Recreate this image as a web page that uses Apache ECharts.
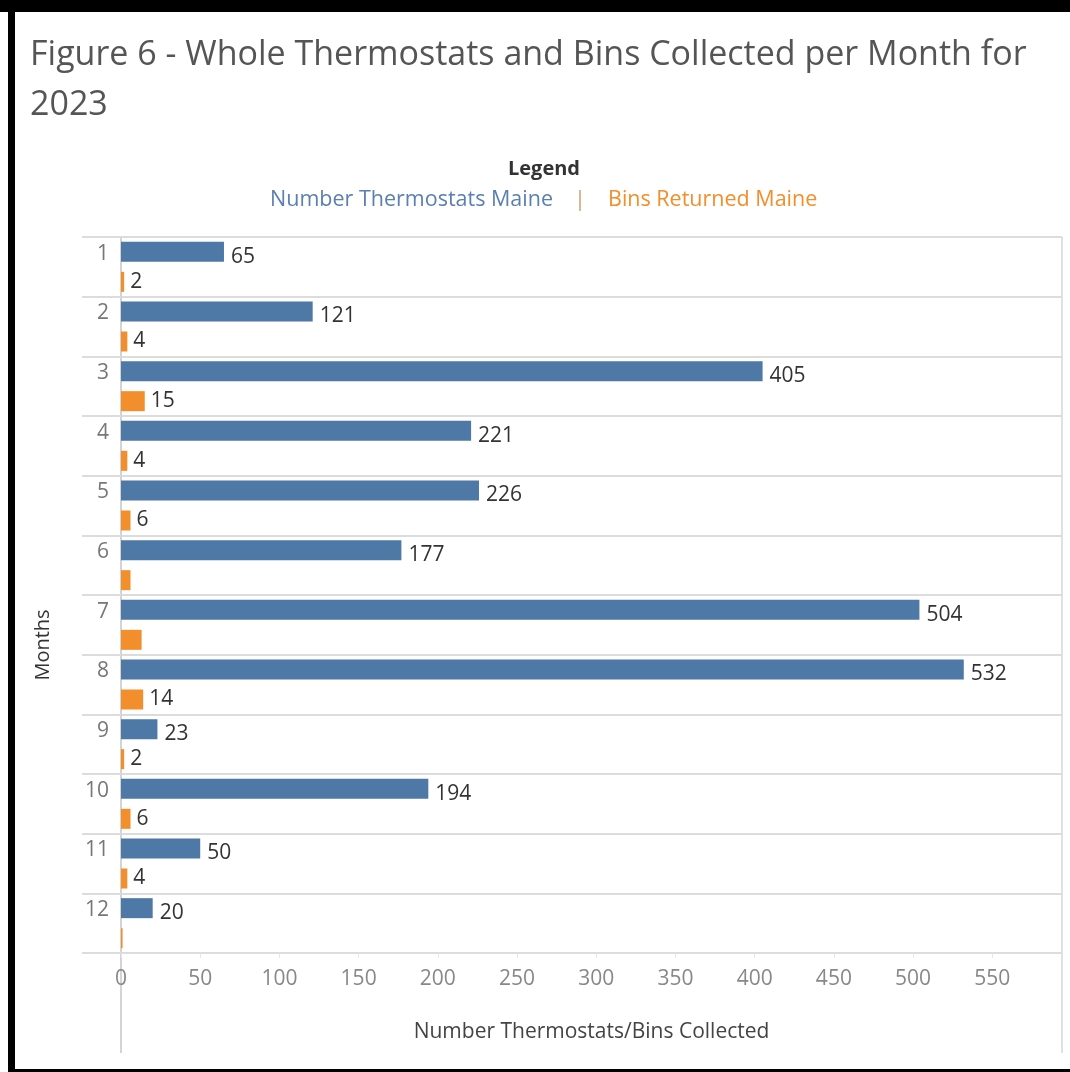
<!DOCTYPE html>
<html>
<head>
<meta charset="utf-8">
<script src="https://cdn.jsdelivr.net/npm/echarts@6/dist/echarts.min.js"></script>
<style>
html,body{margin:0;padding:0;background:#fff;}
#chart{width:1070px;height:1072px;}
</style>
</head>
<body>
<div id="chart"></div>
<script>
// ---- data ----
const months = ['1','2','3','4','5','6','7','8','9','10','11','12'];
const thermostats = [65, 121, 405, 221, 226, 177, 504, 532, 23, 194, 50, 20];
const bins = [2, 4, 15, 4, 6, 6, 13, 14, 2, 6, 4, 1];
const binsUnlabeled = ['6', '7', '12'];
const xTicks = [0, 50, 100, 150, 200, 250, 300, 350, 400, 450, 500, 550];

const FONT = '"Open Sans", "Noto Sans", sans-serif';
const BLUE = '#4e79a7';
const ORANGE = '#f28e2b';

const G = {left: 121, top: 237, right: 8, bottom: 119};
const W = 1070, H = 1072;

const binsData = bins.map((v, i) => binsUnlabeled.includes(months[i])
  ? {value: v, label: {show: false}} : v);

const chart = echarts.init(document.getElementById('chart'), null, {renderer: 'canvas'});
chart.setOption({
  animation: false,
  backgroundColor: '#fff',
  title: {
    text: 'Figure 6 - Whole Thermostats and Bins Collected per Month for\n2023',
    left: 25, top: 25,
    textStyle: {fontFamily: FONT, fontSize: 34, fontWeight: 'normal', color: '#555', lineHeight: 50}
  },
  grid: {left: G.left, top: G.top, right: G.right, bottom: G.bottom, containLabel: false, outerBoundsMode: 'none'},
  xAxis: {
    type: 'value', min: 0, max: 594, interval: 50,
    name: 'Number Thermostats/Bins Collected',
    nameLocation: 'middle', nameGap: 69,
    nameTextStyle: {fontFamily: FONT, fontSize: 21, color: '#444'},
    axisLine: {show: false},
    axisTick: {show: true, length: 5, lineStyle: {color: '#e6e6e6', width: 1}},
    splitLine: {show: false},
    axisLabel: {
      showMaxLabel: false, margin: 16,
      fontFamily: FONT, fontSize: 21, color: '#888',
      formatter: v => xTicks.includes(v) ? String(v) : ''
    }
  },
  yAxis: {
    type: 'category', data: months, inverse: true,
    name: 'Months', nameLocation: 'middle', nameGap: 68, nameRotate: 90,
    nameTextStyle: {fontFamily: FONT, fontSize: 20, color: '#333', padding: [0, 100, 0, 0]},
    axisLine: {show: true, lineStyle: {color: '#d4d4d4', width: 2}},
    axisTick: {show: true, length: 39, lineStyle: {color: '#dcdcdc', width: 2}},
    splitLine: {show: true, lineStyle: {color: '#dcdcdc', width: 2}},
    axisLabel: {
      margin: 12, fontFamily: FONT, fontSize: 21, color: '#777',
      lineHeight: 26,
      formatter: v => v + '\n '
    }
  },
  series: [
    {
      name: 'Number Thermostats Maine', type: 'bar', data: thermostats,
      barWidth: 20, barGap: '50%',
      itemStyle: {color: BLUE},
      label: {show: true, position: 'right', distance: 7, offset: [0, 5],
        fontFamily: FONT, fontSize: 21, color: '#333'}
    },
    {
      name: 'Bins Returned Maine', type: 'bar', data: binsData,
      barWidth: 20,
      itemStyle: {color: ORANGE},
      label: {show: true, position: 'right', distance: 6, offset: [0, 0],
        fontFamily: FONT, fontSize: 21, color: '#333'}
    }
  ],
  graphic: [
    // frame
    {type: 'rect', shape: {x: 0, y: 0, width: W, height: 12}, style: {fill: '#000'}},
    {type: 'rect', shape: {x: 8, y: 0, width: 7, height: H}, style: {fill: '#000'}},
    {type: 'rect', shape: {x: 8, y: 1069, width: W, height: 3}, style: {fill: '#000'}},
    // legend
    {type: 'text', style: {text: 'Legend', x: 544, y: 169, align: 'center', verticalAlign: 'middle', font: 'bold 20px ' + FONT, fill: '#333'}},
    {type: 'text', style: {text: 'Number Thermostats Maine', x: 553, y: 200, align: 'right', verticalAlign: 'middle', font: '21.5px ' + FONT, fill: '#5b7fb0'}},
    {type: 'text', style: {text: '|', x: 580, y: 200, align: 'center', verticalAlign: 'middle', font: '21px ' + FONT, fill: '#c8a070'}},
    {type: 'text', style: {text: 'Bins Returned Maine', x: 608, y: 200, align: 'left', verticalAlign: 'middle', font: '21.5px ' + FONT, fill: ORANGE}},
    // axis extensions
    {type: 'line', shape: {x1: G.left, y1: H - G.bottom, x2: G.left, y2: 1053}, style: {stroke: '#d4d4d4', lineWidth: 2}},
    {type: 'line', shape: {x1: W - G.right, y1: G.top, x2: W - G.right, y2: 1053}, style: {stroke: '#e0e0e0', lineWidth: 2}}
  ]
});
</script>
</body>
</html>
